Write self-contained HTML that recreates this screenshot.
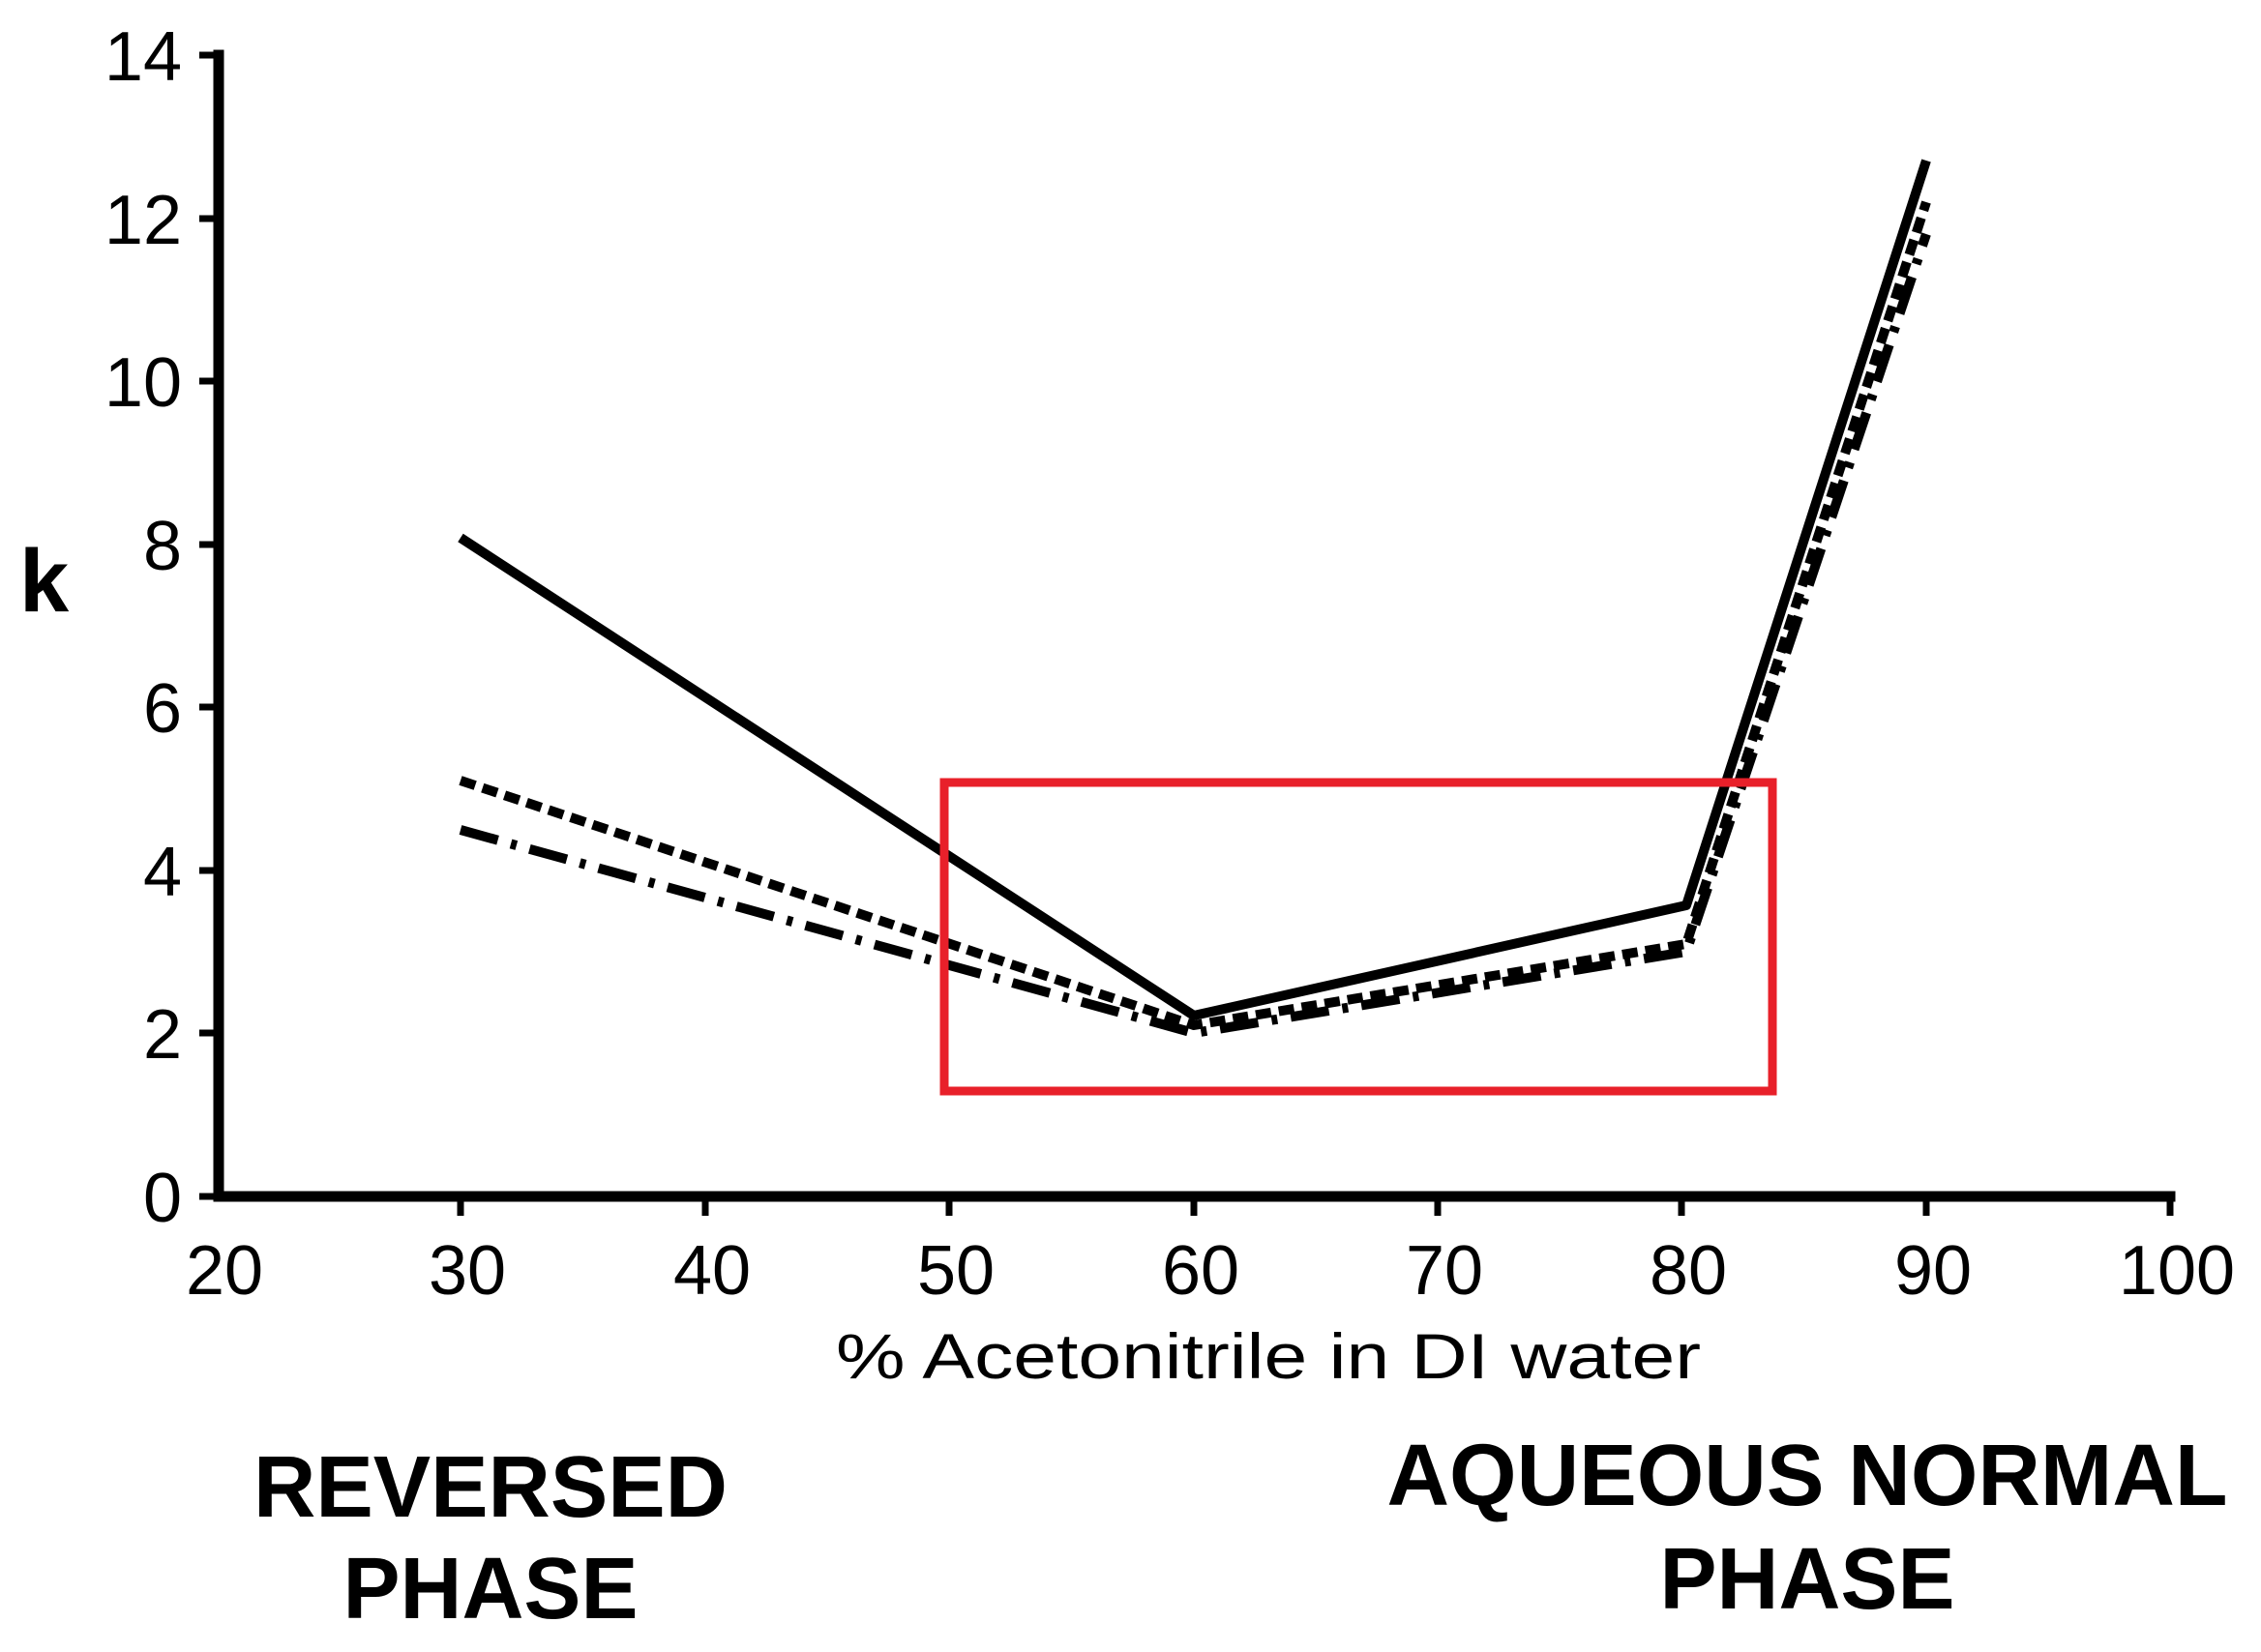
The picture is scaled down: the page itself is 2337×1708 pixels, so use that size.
<!DOCTYPE html>
<html><head><meta charset="utf-8"><style>html,body{margin:0;padding:0;background:#fff}svg{display:block}</style></head>
<body>
<svg width="2337" height="1708" viewBox="0 0 2337 1708" xmlns="http://www.w3.org/2000/svg" font-family="'Liberation Sans', Arial, sans-serif">
<rect width="2337" height="1708" fill="#fff"/>
<g stroke="#000" stroke-width="11" stroke-linecap="square">
<line x1="226" y1="57" x2="226" y2="1237"/>
<line x1="226" y1="1237" x2="2243" y2="1237"/>
</g>
<g stroke="#000" stroke-width="7">
<line x1="206" y1="57" x2="226" y2="57"/>
<line x1="206" y1="226" x2="226" y2="226"/>
<line x1="206" y1="394" x2="226" y2="394"/>
<line x1="206" y1="563" x2="226" y2="563"/>
<line x1="206" y1="731" x2="226" y2="731"/>
<line x1="206" y1="900" x2="226" y2="900"/>
<line x1="206" y1="1068" x2="226" y2="1068"/>
<line x1="206" y1="1237" x2="226" y2="1237"/>
<line x1="476" y1="1237" x2="476" y2="1257"/>
<line x1="729" y1="1237" x2="729" y2="1257"/>
<line x1="981" y1="1237" x2="981" y2="1257"/>
<line x1="1234" y1="1237" x2="1234" y2="1257"/>
<line x1="1486" y1="1237" x2="1486" y2="1257"/>
<line x1="1738" y1="1237" x2="1738" y2="1257"/>
<line x1="1991" y1="1237" x2="1991" y2="1257"/>
<line x1="2243" y1="1237" x2="2243" y2="1257"/>
</g>
<g font-size="72" text-anchor="end" fill="#000">
<text x="188" y="83">14</text>
<text x="188" y="252">12</text>
<text x="188" y="420">10</text>
<text x="188" y="589">8</text>
<text x="188" y="757">6</text>
<text x="188" y="926">4</text>
<text x="188" y="1094">2</text>
<text x="188" y="1263">0</text>
</g>
<g font-size="72" text-anchor="middle" fill="#000">
<text x="232" y="1338">20</text>
<text x="483" y="1338">30</text>
<text x="736" y="1338">40</text>
<text x="988" y="1338">50</text>
<text x="1241" y="1338">60</text>
<text x="1493" y="1338">70</text>
<text x="1745" y="1338">80</text>
<text x="1998" y="1338">90</text>
<text x="2250" y="1338">100</text>
</g>
<text x="1311" y="1425" font-size="66" text-anchor="middle" textLength="894" lengthAdjust="spacingAndGlyphs">% Acetonitrile in DI water</text>
<text x="20" y="632" font-size="92" font-weight="bold">k</text>
<g font-weight="bold" font-size="90" text-anchor="middle">
<text x="507" y="1568" textLength="490" lengthAdjust="spacingAndGlyphs">REVERSED</text>
<text x="507" y="1673" textLength="305" lengthAdjust="spacingAndGlyphs">PHASE</text>
<text x="1868" y="1556" textLength="869" lengthAdjust="spacingAndGlyphs">AQUEOUS NORMAL</text>
<text x="1868" y="1663" textLength="305" lengthAdjust="spacingAndGlyphs">PHASE</text>
</g>
<g fill="none" stroke="#000" stroke-linejoin="round">
<polyline points="476,858 1234,1068 1743,984 1991,242" stroke-width="10" stroke-dasharray="40,14,6,14"/>
<polyline points="476,807 1234,1060 1743,976 1991,209" stroke-width="10" stroke-dasharray="16,8"/>
<polyline points="476,556 1234,1050 1743,936 1991,166" stroke-width="10"/>
</g>
<rect x="976" y="809" width="856" height="319" fill="none" stroke="#e8202a" stroke-width="9"/>
</svg>
</body></html>
